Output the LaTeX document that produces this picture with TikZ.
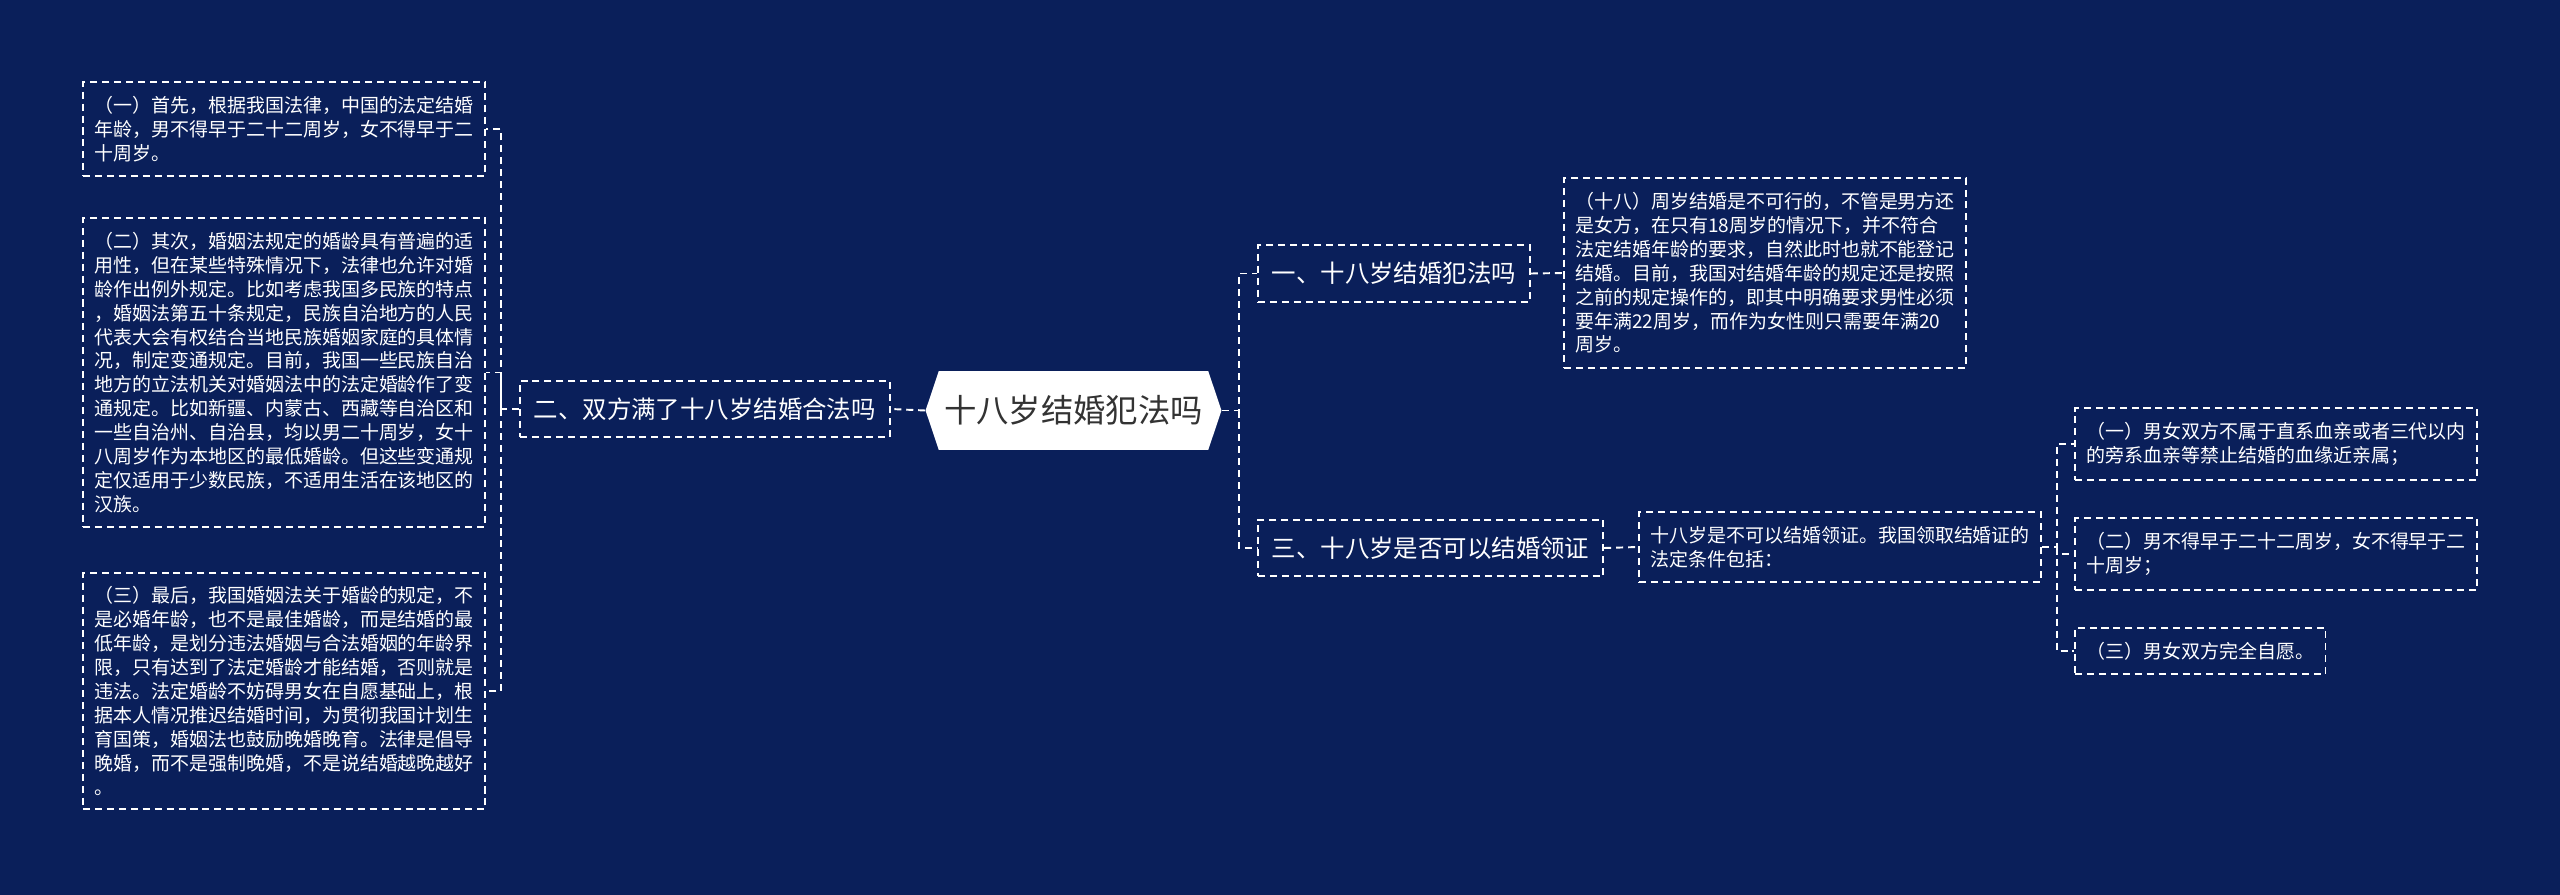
\documentclass[tikz,border=0pt]{standalone}
\usepackage{fontspec}
\newfontfamily\cjk{Noto Sans CJK SC}
\usetikzlibrary{shapes.symbols}
\definecolor{bgnavy}{RGB}{10,31,90}
\definecolor{rootgray}{RGB}{51,51,51}

\begin{document}
\begin{tikzpicture}[x=0.02cm,y=-0.02cm,
  leaf/.style={draw=white,dash pattern=on 4pt off 2.8pt,line width=1.1pt,text=white,
    font=\cjk\fontsize{10.8}{13.6}\selectfont,align=left,inner xsep=6.5pt,inner ysep=8pt,anchor=west},
  topic/.style={draw=white,dash pattern=on 4pt off 2.8pt,line width=1.1pt,text=white,
    font=\cjk\fontsize{13.9}{16}\selectfont,inner xsep=7.9pt,minimum height=32.3pt,anchor=west},
  link/.style={draw=white,dash pattern=on 4pt off 2.8pt,line width=1.1pt}]
\fill [bgnavy] (0,0) rectangle (2560,895);
\useasboundingbox (0,0) rectangle (2560,895);
% centre
\node [signal,signal to=west and east,signal pointer angle=143,fill=white,text=rootgray,
  font=\cjk\fontsize{18.4}{20}\selectfont,minimum width=168.4pt,minimum height=44.8pt,inner sep=0pt]
  (root) at (1073.5,410.5) {十八岁结婚犯法吗};
% left branch
\node [topic] (legal) at (519,409) {二、双方满了十八岁结婚合法吗};
\node [leaf] (first) at (82,129) {（一）首先，根据我国法律，中国的法定结婚\\年龄，男不得早于二十二周岁，女不得早于二\\十周岁。};
\node [leaf] (second) at (82,372.5) {（二）其次，婚姻法规定的婚龄具有普遍的适\\用性，但在某些特殊情况下，法律也允许对婚\\龄作出例外规定。比如考虑我国多民族的特点\\，婚姻法第五十条规定，民族自治地方的人民\\代表大会有权结合当地民族婚姻家庭的具体情\\况，制定变通规定。目前，我国一些民族自治\\地方的立法机关对婚姻法中的法定婚龄作了变\\通规定。比如新疆、内蒙古、西藏等自治区和\\一些自治州、自治县，均以男二十周岁，女十\\八周岁作为本地区的最低婚龄。但这些变通规\\定仅适用于少数民族，不适用生活在该地区的\\汉族。};
\node [leaf] (third) at (82,691) {（三）最后，我国婚姻法关于婚龄的规定，不\\是必婚年龄，也不是最佳婚龄，而是结婚的最\\低年龄，是划分违法婚姻与合法婚姻的年龄界\\限，只有达到了法定婚龄才能结婚，否则就是\\违法。法定婚龄不妨碍男女在自愿基础上，根\\据本人情况推迟结婚时间，为贯彻我国计划生\\育国策，婚姻法也鼓励晚婚晚育。法律是倡导\\晚婚，而不是强制晚婚，不是说结婚越晚越好\\。};
% right branch
\node [topic] (crime) at (1257,273.5) {一、十八岁结婚犯法吗};
\node [leaf] (crimetext) at (1563,273) {（十八）周岁结婚是不可行的，不管是男方还\\是女方，在只有18周岁的情况下，并不符合\\法定结婚年龄的要求，自然此时也就不能登记\\结婚。目前，我国对结婚年龄的规定还是按照\\之前的规定操作的，即其中明确要求男性必须\\要年满22周岁，而作为女性则只需要年满20\\周岁。};
\node [topic] (licence) at (1257,548) {三、十八岁是否可以结婚领证};
\node [leaf] (licencetext) at (1638,547) {十八岁是不可以结婚领证。我国领取结婚证的\\法定条件包括：};
\node [leaf] (cond1) at (2074,444) {（一）男女双方不属于直系血亲或者三代以内\\的旁系血亲等禁止结婚的血缘近亲属；};
\node [leaf] (cond2) at (2074,554) {（二）男不得早于二十二周岁，女不得早于二\\十周岁；};
\node [leaf] (cond3) at (2074,651) {（三）男女双方完全自愿。};
% links
\coordinate (lbus) at (501,409);
\coordinate (rbus) at (1239,410.5);
\coordinate (cbus) at (2057,547);
\draw [link] (root.west) -- (legal.east);
\draw [link] (legal.west) -- (lbus) |- (first.east);
\draw [link] (lbus) |- (second.east);
\draw [link] (lbus) |- (third.east);
\draw [link] (root.east) -- (rbus) |- (crime.west);
\draw [link] (rbus) |- (licence.west);
\draw [link] (crime.east) -- (crimetext.west);
\draw [link] (licence.east) -- (licencetext.west);
\draw [link] (licencetext.east) -- (cbus) |- (cond1.west);
\draw [link] (cbus) |- (cond2.west);
\draw [link] (cbus) |- (cond3.west);
\end{tikzpicture}
\end{document}
